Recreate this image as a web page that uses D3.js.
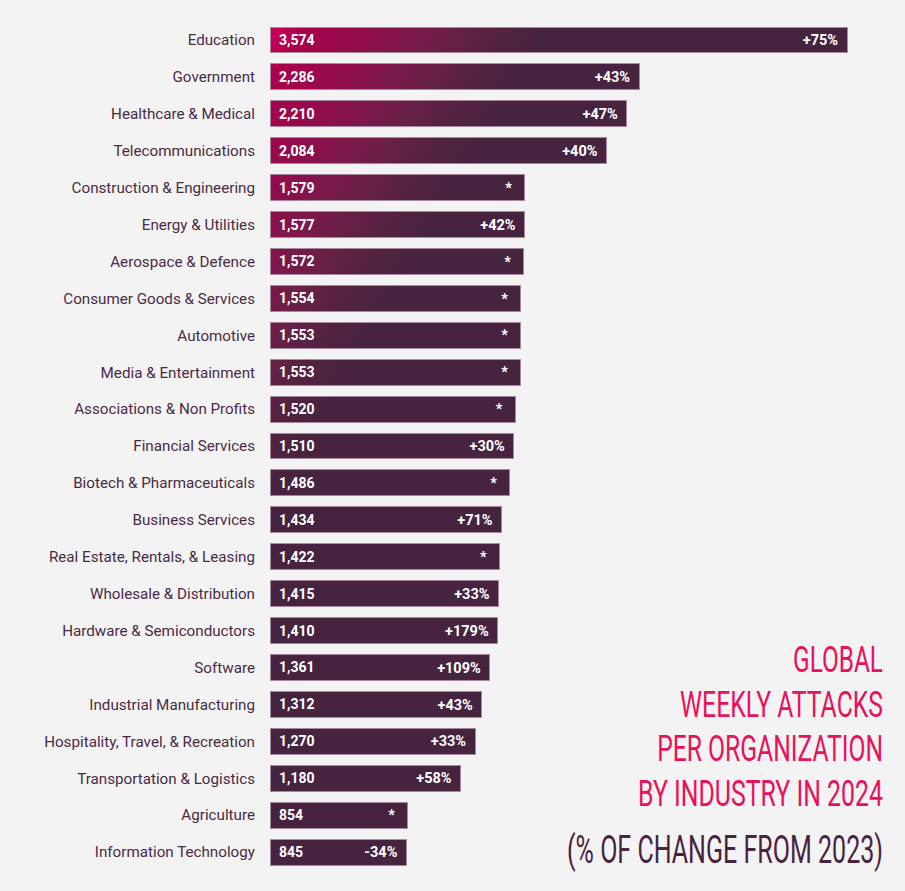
<!DOCTYPE html>
<html>
<head>
<meta charset="utf-8">
<script src="https://cdn.jsdelivr.net/npm/d3@7"></script>
<style>
  html, body { margin: 0; padding: 0; background: #f3f3f3; }
  svg { display: block; }
</style>
</head>
<body>
<div id="chart"></div>
<script>
const categories = [
  "Education", "Government", "Healthcare & Medical", "Telecommunications",
  "Construction & Engineering", "Energy & Utilities", "Aerospace & Defence",
  "Consumer Goods & Services", "Automotive", "Media & Entertainment",
  "Associations & Non Profits", "Financial Services", "Biotech & Pharmaceuticals",
  "Business Services", "Real Estate, Rentals, & Leasing", "Wholesale & Distribution",
  "Hardware & Semiconductors", "Software", "Industrial Manufacturing",
  "Hospitality, Travel, & Recreation", "Transportation & Logistics",
  "Agriculture", "Information Technology"
];
const weeklyAttacks = [
  3574, 2286, 2210, 2084, 1579, 1577, 1572, 1554, 1553, 1553, 1520, 1510,
  1486, 1434, 1422, 1415, 1410, 1361, 1312, 1270, 1180, 854, 845
];
const changeLabels = [
  "+75%", "+43%", "+47%", "+40%", "*", "+42%", "*", "*", "*", "*", "*", "+30%",
  "*", "+71%", "*", "+33%", "+179%", "+109%", "+43%", "+33%", "+58%", "*", "-34%"
];
const titleLines = ["GLOBAL", "WEEKLY ATTACKS", "PER ORGANIZATION", "BY INDUSTRY IN 2024"];
const subtitle = "(% OF CHANGE FROM 2023)";

const W = 905, H = 891;
const svg = d3.select("#chart").append("svg").attr("width", W).attr("height", H);
svg.append("rect").attr("width", W).attr("height", H).attr("fill", "#f3f3f3");

const x = d3.scaleLinear().domain([0, 3574]).range([270, 847]);
const y = d3.scaleBand().domain(categories).range([27, 865]).paddingInner(0.296).paddingOuter(0);

const defs = svg.append("defs");
const grad = defs.append("linearGradient").attr("id", "barGrad")
  .attr("gradientUnits", "userSpaceOnUse")
  .attr("x1", 270).attr("y1", 27).attr("x2", 478).attr("y2", 146);
[[0, "#cf005b"], [0.12, "#aa004b"], [0.35, "#920c4c"], [0.5, "#80164b"],
 [0.68, "#682046"], [0.85, "#532240"], [1, "#46233f"]].forEach(([o, c]) =>
  grad.append("stop").attr("offset", o).attr("stop-color", c));

const data = categories.map((c, i) => ({ cat: c, v: weeklyAttacks[i], ch: changeLabels[i] }));

const boldFont = "'Roboto', 'Liberation Sans', sans-serif";

svg.append("g").selectAll("rect").data(data).join("rect")
  .attr("x", x(0))
  .attr("y", d => y(d.cat))
  .attr("width", d => x(d.v) - x(0))
  .attr("height", y.bandwidth())
  .attr("fill", "url(#barGrad)")
  .attr("stroke", "#a9889f")
  .attr("stroke-width", 1)
  .attr("shape-rendering", "crispEdges");

// category labels
svg.append("g").selectAll("text").data(data).join("text")
  .attr("x", 255)
  .attr("y", d => y(d.cat) + y.bandwidth() / 2)
  .attr("dy", "0.35em")
  .attr("text-anchor", "end")
  .attr("font-family", "'Roboto', sans-serif")
  .attr("font-size", 15.2)
  .attr("fill", "#4a2b45")
  .text(d => d.cat);

// value labels
svg.append("g").selectAll("text").data(data).join("text")
  .attr("x", x(0) + 9)
  .attr("y", d => y(d.cat) + y.bandwidth() / 2)
  .attr("dy", "0.36em")
  .attr("font-family", boldFont)
  .attr("font-weight", "bold")
  .attr("font-size", 14)
  .attr("fill", "#ffffff")
  .text(d => d3.format(",")(d.v));

// change labels
svg.append("g").selectAll("text").data(data).join("text")
  .attr("x", d => x(d.v) - (d.ch === "*" ? 13 : 9))
  .attr("y", d => y(d.cat) + y.bandwidth() / 2)
  .attr("dy", "0.36em")
  .attr("text-anchor", "end")
  .attr("font-family", boldFont)
  .attr("font-weight", "bold")
  .attr("font-size", 14.5)
  .attr("fill", "#ffffff")
  .text(d => d.ch);

// title (condensed by horizontal scaling)
function condensedLine(txt, baseline, width, size, color) {
  const g = svg.append("g");
  const t = g.append("text")
    .attr("x", 0).attr("y", 0)
    .attr("text-anchor", "end")
    .attr("font-family", "'Roboto', 'Liberation Sans', sans-serif")
    .attr("font-weight", 400)
    .attr("font-size", size)
    .attr("fill", color)
    .text(txt);
  const natural = t.node().getComputedTextLength();
  g.attr("transform", `translate(883,${baseline}) scale(${width / natural},1)`);
}
const titleWidths = [90, 203, 226, 245];
const titleBaselines = [672, 717, 761, 806];
titleLines.forEach((l, i) => condensedLine(l, titleBaselines[i], titleWidths[i], 37, "#e8115a"));
condensedLine(subtitle, 863, 316, 39, "#4a2340");
</script>
</body>
</html>
